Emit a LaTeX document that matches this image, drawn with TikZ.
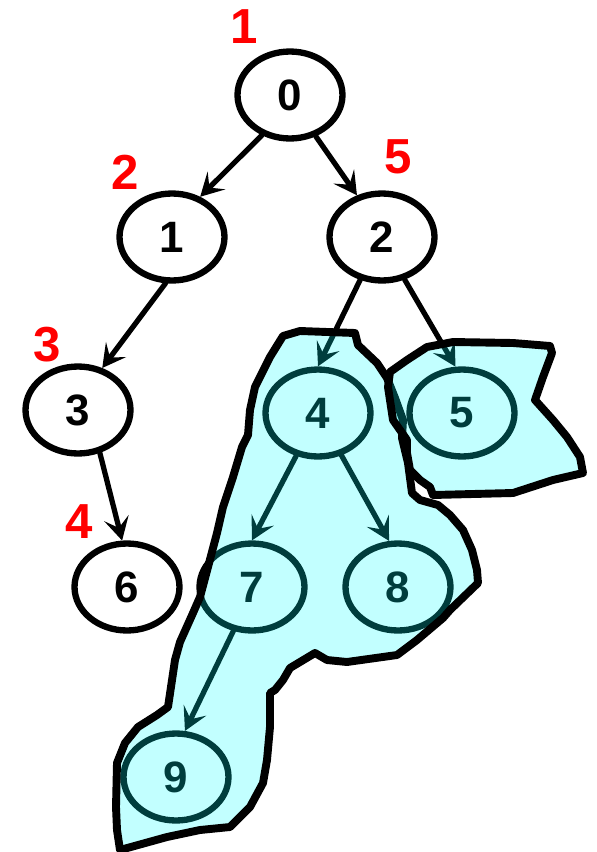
\documentclass[tikz,border=0pt]{standalone}
\usepackage{fontspec}
\setmainfont{Liberation Sans}
\usetikzlibrary{arrows.meta,shapes.geometric}

\definecolor{aqua}{RGB}{0,255,255}
\definecolor{ordred}{RGB}{255,0,0}

\tikzset{
  vertex/.style={draw, ellipse, line width=3.6pt, minimum width=2.1cm, minimum height=1.74cm,
    inner sep=0pt, font=\fontsize{25}{29}\selectfont\bfseries},
  order/.style={text=ordred, inner sep=0pt, font=\fontsize{28}{32}\selectfont\bfseries},
  edge/.style={->, line width=3pt},
  blob/.style={draw=black, line width=4.5pt},
  blobfill/.style={fill=aqua, fill opacity=0.24}
}

\begin{document}
\begin{tikzpicture}[x=0.02cm, y=-0.02cm, >={Stealth[length=0.46cm, width=0.5cm, inset=0.2cm]},
  line cap=round, line join=round]

\useasboundingbox (0,0) rectangle (597,852);

% tree
\foreach \n/\x/\y in {0/290/95,1/172/237,2/382/237,3/78/410,4/318/413,5/462/413,6/127/587,7/252/587,8/398/587,9/176/777}{
  \node[vertex] (n\n) at (\x,\y) {\n};
}
\foreach \a/\b/\s/\e in {0/1/-125/55,0/2/-58/121,1/3/-98/60,3/6/-63/96,2/4/-117/90,2/5/-62/98,4/7/-117/90,4/8/-61/101,7/9/-113/79}{
  \draw[edge] (n\a.\s) -- (n\b.\e);
}

% visiting order
\foreach \k/\x/\y in {1/244/27,2/125/172,5/398/157,3/47/345,4/79/522}{
  \node[order] (o\k) at (\x,\y) {\k};
}

% pruned subtrees
\def\bigblob{(283,336) -- (300,331) -- (355,333) -- (358,345) -- (377,363) -- (387,378) -- (395,398) -- (403,420)
  -- (402,438) -- (408,463) -- (412,493) -- (420,500) -- (438,505) -- (450,515) -- (463,530) -- (472,550) -- (477,570)
  -- (478,583) -- (450,610) -- (443,618) -- (417,640) -- (397,655) -- (347,662) -- (327,660) -- (315,653) -- (300,662)
  -- (290,668) -- (283,680) -- (275,690) -- (270,693) -- (270,727) -- (267,760) -- (263,783) -- (250,807) -- (230,827)
  -- (200,830) -- (167,837) -- (120,850) -- (117,830) -- (116,807) -- (117,763) -- (125,743) -- (138,727) -- (157,715)
  -- (168,707) -- (175,660) -- (180,642) -- (193,613) -- (200,597) -- (208,567) -- (217,533) -- (223,507) -- (233,477)
  -- (242,447) -- (248,435) -- (250,410) -- (255,387) -- (270,357) -- cycle}
\def\smallblob{(390,372) -- (407,360) -- (427,347) -- (453,342) -- (513,343) -- (550,346) -- (552,353) -- (543,377)
  -- (535,400) -- (553,420) -- (567,437) -- (580,457) -- (583,473) -- (553,480) -- (513,493) -- (433,495) -- (430,487)
  -- (420,480) -- (410,470) -- (407,453) -- (407,440) -- (393,420) -- (388,387) -- cycle}

\fill[blobfill] \bigblob;
\draw[blob] \bigblob;
\fill[blobfill] \smallblob;
\draw[blob] \smallblob;

\end{tikzpicture}
\end{document}
